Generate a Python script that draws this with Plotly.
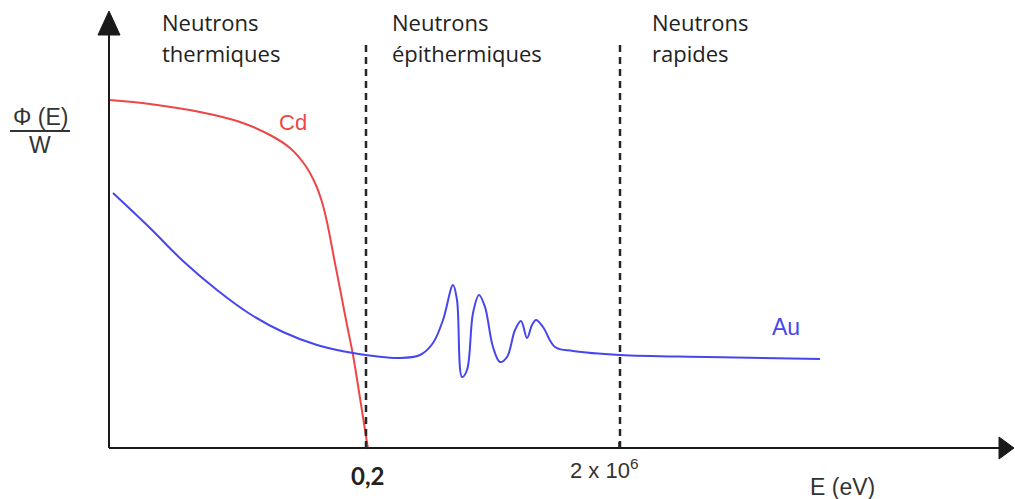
import plotly.graph_objects as go

# Chart units: E axis (arbitrary, origin at the vertical axis), flux Φ(E)/W (arbitrary)
cd_E = [0, 41, 91, 131, 161, 181, 196, 206, 213, 218, 225, 232, 238, 244, 251, 259]
cd_phi = [348, 344, 336, 326, 313, 300, 283, 265, 246, 226, 190, 154, 123, 93, 50, -1]

au_E = [4, 41, 74, 108, 141, 174, 208, 244, 291, 311, 324, 334, 344, 348, 353, 358, 364, 370,
        376, 384, 391, 398, 406, 412, 418, 423, 427, 434, 446, 464, 511, 598, 711]
au_phi = [255, 220, 187, 158, 134, 116, 103, 95, 90, 93, 105, 128, 163, 148, 71, 78, 135, 153,
          141, 101, 86, 91, 118, 127, 110, 123, 128, 121, 101, 97, 93, 91, 89]

boundaries_E = [257, 511]          # 0,2 eV and 2 x 10^6 eV
boundary_labels = ["<b>0,2</b>", "2 x 10<sup>6</sup>"]
region_labels = [("Neutrons", "thermiques"), ("Neutrons", "épithermiques"), ("Neutrons", "rapides")]
region_E = [51, 281, 541]

RED = "#ee4646"
BLUE = "#4646ee"
AX = "#1a1a1a"

fig = go.Figure()

fig.add_trace(go.Scatter(x=cd_E, y=cd_phi, mode="lines",
                         line=dict(color=RED, width=2, shape="spline", smoothing=1.0),
                         hoverinfo="skip"))
fig.add_trace(go.Scatter(x=au_E, y=au_phi, mode="lines",
                         line=dict(color=BLUE, width=2, shape="spline", smoothing=1.0),
                         hoverinfo="skip"))

shapes = []
# axes
shapes.append(dict(type="line", x0=0, y0=0, x1=0, y1=415, xref="x", yref="y",
                   line=dict(color=AX, width=2)))
shapes.append(dict(type="line", x0=0, y0=0, x1=892, y1=0, xref="x", yref="y",
                   line=dict(color=AX, width=2)))
shapes.append(dict(type="path", path="M -11,413 L 0,437 L 11,413 Z", xref="x", yref="y",
                   fillcolor=AX, line=dict(color=AX, width=1)))
shapes.append(dict(type="path", path="M 890,-11 L 905,0 L 890,11 Z", xref="x", yref="y",
                   fillcolor=AX, line=dict(color=AX, width=1)))
# tick at 2x10^6
shapes.append(dict(type="line", x0=510, y0=0, x1=510, y1=6, xref="x", yref="y",
                   line=dict(color=AX, width=1.5)))
# boundaries
for e in boundaries_E:
    shapes.append(dict(type="line", x0=e, y0=0, x1=e, y1=406, xref="x", yref="y",
                       line=dict(color="#262626", width=2.5, dash="7px,5px")))
# fraction bar
shapes.append(dict(type="line", x0=-99, y0=317, x1=-39, y1=317, xref="x", yref="y",
                   line=dict(color="#333333", width=2)))

ann = []
TXT = "#222222"
for (l1, l2), e in zip(region_labels, region_E):
    ann.append(dict(x=e, y=426, text=l1, xanchor="left", yanchor="middle", showarrow=False,
                    font=dict(family="Open Sans", size=22, color=TXT)))
    ann.append(dict(x=e, y=395, text=l2, xanchor="left", yanchor="middle", showarrow=False,
                    font=dict(family="Open Sans", size=22, color=TXT)))

ann.append(dict(x=168, y=326, text="Cd", xanchor="left", yanchor="middle", showarrow=False,
                font=dict(family="Liberation Sans", size=22, color=RED)))
ann.append(dict(x=661, y=121, text="Au", xanchor="left", yanchor="middle", showarrow=False,
                font=dict(family="Liberation Sans", size=23, color=BLUE)))
ann.append(dict(x=-69, y=331, text="Φ (E)", xanchor="center", yanchor="middle", showarrow=False,
                font=dict(family="Liberation Sans", size=23, color="#333333")))
ann.append(dict(x=-69, y=303, text="W", xanchor="center", yanchor="middle", showarrow=False,
                font=dict(family="Liberation Sans", size=23, color="#333333")))
ann.append(dict(x=boundaries_E[0] + 1, y=-27, text=boundary_labels[0], xanchor="center",
                yanchor="middle", showarrow=False,
                font=dict(family="Lato", size=24, color=TXT)))
ann.append(dict(x=459, y=-21, text=boundary_labels[1], xanchor="left", yanchor="middle",
                showarrow=False, font=dict(family="Liberation Sans", size=22, color="#333333")))
ann.append(dict(x=699, y=-39, text="E (eV)", xanchor="left", yanchor="middle", showarrow=False,
                font=dict(family="Liberation Sans", size=23, color="#333333")))

fig.update_layout(
    width=1015, height=499,
    margin=dict(l=0, r=0, t=0, b=0),
    paper_bgcolor="white", plot_bgcolor="white",
    showlegend=False,
    xaxis=dict(range=[-109, 906], visible=False, fixedrange=True),
    yaxis=dict(range=[-51, 448], visible=False, fixedrange=True),
    shapes=shapes, annotations=ann,
)

fig.write_html("out.html")
